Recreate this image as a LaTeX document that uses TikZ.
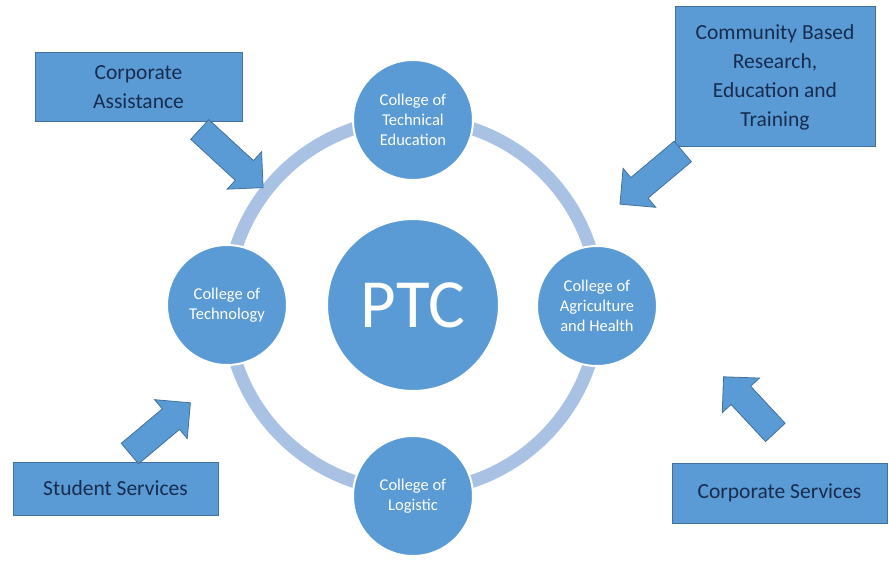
\documentclass[tikz,border=0pt]{standalone}
\usepackage{fontspec}
\setmainfont{Carlito}
\usetikzlibrary{shapes.arrows}
\definecolor{ptcblue}{HTML}{5B9BD5}
\definecolor{ringblue}{HTML}{A9C2E4}
\definecolor{edgeblue}{HTML}{41719C}
\definecolor{navytext}{HTML}{172C4E}
\tikzstyle{college}=[circle, fill=ptcblue, draw=white, line width=2pt, minimum size=120pt, inner sep=0pt, text=white, align=center, font=\fontsize{16.5}{20}\selectfont]
\tikzstyle{hub}=[college, minimum size=172pt, font=\fontsize{69}{70}\selectfont]
\tikzstyle{unit}=[draw=edgeblue, fill=ptcblue, line width=1pt, text=navytext, align=center, inner sep=0pt, font=\fontsize{21.5}{29}\selectfont]
\tikzstyle{push}=[single arrow, draw=edgeblue, fill=ptcblue, line width=.8pt, inner xsep=0pt, inner ysep=13pt, single arrow head extend=12pt]
\tikzstyle{ring}=[draw=ringblue, line width=13pt]

\begin{document}
\begin{tikzpicture}[x=1pt,y=-1pt]
    \useasboundingbox (0,0) rectangle (889,561);

    % Ring
    \draw[ring] (413,305) circle (186pt);

    % Colleges
    \draw (413,305) node[hub] (ptc) {PTC};
    \draw (413,120) node[college] (cte) {College of\\Technical\\Education};
    \draw (227,305) node[college] (ctech) {College of\\Technology};
    \draw (597,306) node[college] (cah) {College of\\Agriculture\\and Health};
    \draw (413,496) node[college] (clog) {College of\\Logistic};

    % Services
    \draw (138.5,87.5) node[unit, minimum width=207pt, minimum height=69pt] (ca) {Corporate\\Assistance};
    \draw (775,77) node[unit, minimum width=200pt, minimum height=140pt] (cbr) {Community Based\\Research,\\Education and\\Training};
    \draw (115.5,488.5) node[unit, minimum width=205pt, minimum height=53pt] (ss) {Student Services};
    \draw (779.5,493) node[unit, minimum width=215pt, minimum height=60pt] (cs) {Corporate Services};

    % Arrows
    \node[push, minimum height=86pt, rotate=-42.6] (pca) at (226.5,154) {};
    \node[push, minimum height=82pt, rotate=220] (pcbr) at (656.5,173.5) {};
    \node[push, minimum height=79pt, rotate=40] (pss) at (155,432.5) {};
    \node[push, minimum height=76pt, rotate=133] (pcs) at (754,409.5) {};
\end{tikzpicture}
\end{document}
